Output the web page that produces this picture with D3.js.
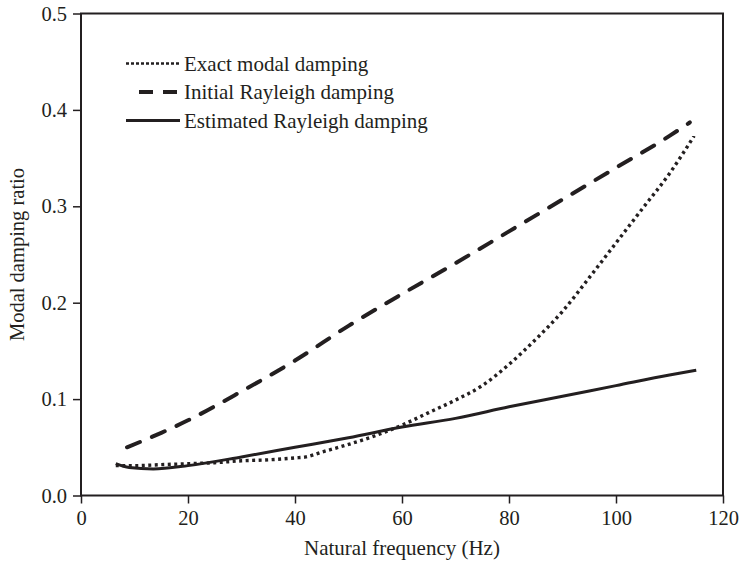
<!DOCTYPE html>
<html lang="en">
<head>
<meta charset="UTF-8">
<title>Modal damping ratio</title>
<script src="https://d3js.org/d3.v7.min.js"></script>
<style>
  body { margin: 0; background: #fff; }
  text { font-family: "Liberation Serif", "Times New Roman", serif; fill: #231f20; }
</style>
</head>
<body>
<script>
// values
var xTicks = [0, 20, 40, 60, 80, 100, 120];
var yTicks = [0.0, 0.1, 0.2, 0.3, 0.4, 0.5];

var exactFreq = [6.5, 10, 15, 20, 25, 30, 35, 40, 42, 45, 50, 55, 60, 65, 70, 75, 80, 85, 90, 95, 100, 105, 110, 114.6];
var exactDamp = [0.031, 0.031, 0.032, 0.033, 0.034, 0.036, 0.037, 0.039, 0.040, 0.045, 0.053, 0.062, 0.073, 0.086, 0.099, 0.114, 0.136, 0.162, 0.191, 0.226, 0.262, 0.298, 0.334, 0.373];

var initFreq = [8.6, 15, 20, 30, 40, 50, 60, 70, 80, 90, 100, 110, 113.8];
var initDamp = [0.050, 0.065, 0.078, 0.108, 0.140, 0.176, 0.209, 0.241, 0.274, 0.307, 0.340, 0.373, 0.387];

var estFreq = [6.5, 9, 13.5, 20, 30, 40, 50, 60, 70, 80, 90, 100, 110, 115];
var estDamp = [0.033, 0.029, 0.0275, 0.031, 0.040, 0.050, 0.060, 0.071, 0.080, 0.092, 0.103, 0.114, 0.125, 0.130];

var legendNames = ["Exact modal damping", "Initial Rayleigh damping", "Estimated Rayleigh damping"];

var w = 743, h = 564;
var ink = "#231f20";

var svg = d3.select("body").append("svg")
    .attr("width", w)
    .attr("height", h);

var x = d3.scaleLinear().domain([0, 120]).range([81, 723]);
var y = d3.scaleLinear().domain([0, 0.5]).range([495.5, 13.5]);

// frame
svg.append("rect")
    .attr("x", x(0)).attr("y", y(0.5))
    .attr("width", x(120) - x(0)).attr("height", y(0) - y(0.5))
    .attr("fill", "none").attr("stroke", ink).attr("stroke-width", 2);

var xAxis = svg.append("g")
    .attr("transform", "translate(0," + y(0) + ")")
    .call(d3.axisBottom(x).tickValues(xTicks).tickSize(8).tickPadding(7).tickFormat(d3.format("d")));
var yAxis = svg.append("g")
    .attr("transform", "translate(" + x(0) + ",0)")
    .call(d3.axisLeft(y).tickValues(yTicks).tickSize(8).tickPadding(6).tickFormat(d3.format(".1f")));

[xAxis, yAxis].forEach(function(a) {
  a.select(".domain").remove();
  a.selectAll(".tick line").attr("stroke", ink).attr("stroke-width", 1.5);
  a.selectAll(".tick text").attr("font-size", 20.5).attr("font-family", "Liberation Serif").attr("fill", ink);
});

svg.append("text")
    .attr("x", (x(0) + x(120)) / 2).attr("y", 555)
    .attr("text-anchor", "middle").attr("font-size", 21)
    .text("Natural frequency (Hz)");

svg.append("text")
    .attr("transform", "translate(24," + ((y(0) + y(0.5)) / 2) + ") rotate(-90)")
    .attr("text-anchor", "middle").attr("font-size", 20.5)
    .text("Modal damping ratio");

var line = d3.line()
    .x(function(d) { return x(d[0]); })
    .y(function(d) { return y(d[1]); })
    .curve(d3.curveMonotoneX);

function pts(xs, ys) { return xs.map(function(v, i) { return [v, ys[i]]; }); }

svg.append("path")
    .attr("d", line(pts(initFreq, initDamp)))
    .attr("fill", "none").attr("stroke", ink).attr("stroke-width", 4)
    .attr("stroke-linecap", "round").attr("stroke-dasharray", "14,13");

svg.append("path")
    .attr("d", line(pts(estFreq, estDamp)))
    .attr("fill", "none").attr("stroke", ink).attr("stroke-width", 3);

svg.append("path")
    .attr("d", line(pts(exactFreq, exactDamp)))
    .attr("fill", "none").attr("stroke", ink).attr("stroke-width", 3.4)
    .attr("stroke-linecap", "butt").attr("stroke-dasharray", "3,3.5");

// legend
var legRows = [63.5, 92, 120.5];
var leg = svg.append("g");
leg.append("line").attr("x1", 126).attr("x2", 179).attr("y1", legRows[0]).attr("y2", legRows[0])
    .attr("stroke", ink).attr("stroke-width", 2.5).attr("stroke-dasharray", "3,2");
leg.append("line").attr("x1", 139).attr("x2", 177).attr("y1", legRows[1]).attr("y2", legRows[1])
    .attr("stroke", ink).attr("stroke-width", 4).attr("stroke-dasharray", "14,10");
leg.append("line").attr("x1", 126).attr("x2", 180).attr("y1", legRows[2]).attr("y2", legRows[2])
    .attr("stroke", ink).attr("stroke-width", 3);
leg.selectAll("text.lg").data(legendNames).enter().append("text")
    .attr("class", "lg")
    .attr("x", 184)
    .attr("y", function(d, i) { return legRows[i] + 7; })
    .attr("font-size", 21)
    .text(function(d) { return d; });
</script>
</body>
</html>
